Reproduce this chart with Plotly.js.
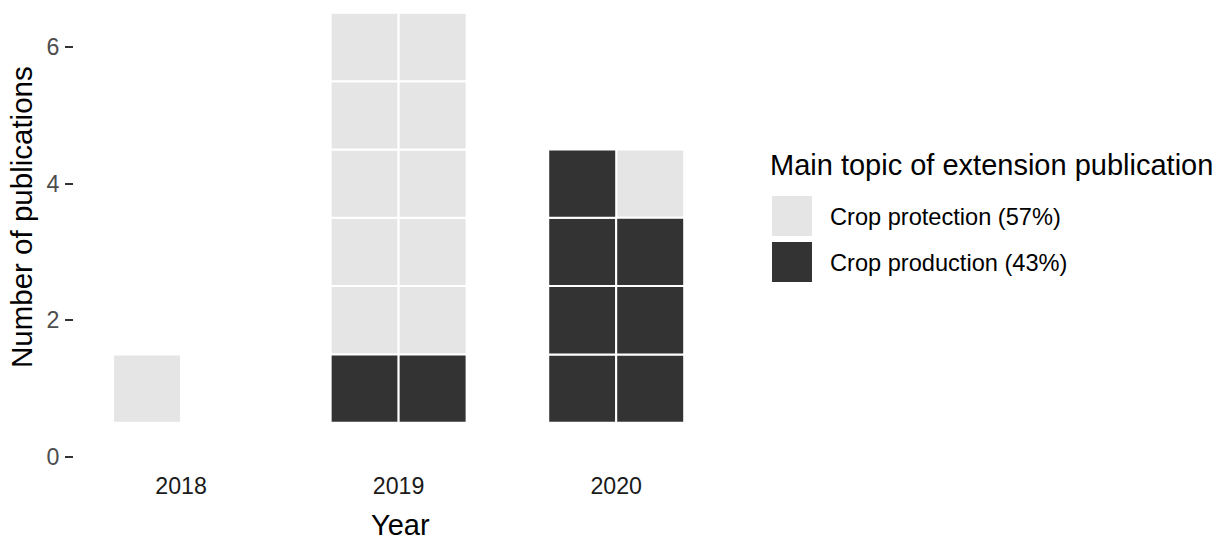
<!DOCTYPE html>
<html>
<head>
<meta charset="utf-8">
<script src="https://cdn.plot.ly/plotly-3.0.1.min.js"></script>
<style>
  html, body { margin: 0; padding: 0; background: #ffffff; }
  #chart { width: 1222px; height: 540px; }
</style>
</head>
<body>
<div id="chart"></div>
<script>
// ---- Data ----
const years = [2018, 2019, 2020];
const categories = ['Crop protection', 'Crop production'];
const protection = [1, 10, 1];   // tiles per year, Crop protection
const production = [0, 2, 7];    // tiles per year, Crop production
const yTicks = [0, 2, 4, 6];
const colors = { 'Crop protection': '#E5E5E5', 'Crop production': '#333333' };

// ---- Waffle layout (2 tiles per row, production filled first, then protection) ----
const perRow = 2;
const colWidth = 0.3125;   // in year units
const tiles = { 'Crop protection': { x: [], base: [], y: [] }, 'Crop production': { x: [], base: [], y: [] } };
years.forEach((yr, i) => {
  const seq = [];
  for (let k = 0; k < production[i]; k++) seq.push('Crop production');
  for (let k = 0; k < protection[i]; k++) seq.push('Crop protection');
  seq.forEach((cat, k) => {
    const col = k % perRow;
    const row = Math.floor(k / perRow) + 1;
    tiles[cat].x.push(yr + (col - (perRow - 1) / 2) * colWidth);
    tiles[cat].base.push(row - 0.5);
    tiles[cat].y.push(1);
  });
});

const totalProt = protection.reduce((a, b) => a + b, 0);
const totalProd = production.reduce((a, b) => a + b, 0);
const total = totalProt + totalProd;
const pct = {
  'Crop protection': Math.round(100 * totalProt / total),
  'Crop production': Math.round(100 * totalProd / total)
};

const traces = categories.map(cat => ({
  type: 'bar',
  name: cat + ' (' + pct[cat] + '%)',
  x: tiles[cat].x,
  y: tiles[cat].y,
  base: tiles[cat].base,
  width: colWidth,
  marker: { color: colors[cat], line: { color: '#ffffff', width: 2 } },
  showlegend: false,
  hoverinfo: 'skip'
}));

// ---- Geometry helpers (pixel -> paper) ----
const W = 1222, H = 540;
const M = { l: 74, r: W - 725, t: 6, b: H - 474 };
const PW = W - M.l - M.r, PH = H - M.t - M.b;
const px = v => (v - M.l) / PW;
const py = v => (H - M.b - v) / PH;

const FONT = '"Liberation Sans", Arial, Helvetica, sans-serif';

const shapes = [];
const annotations = [];

// Legend (manual, large keys)
annotations.push({
  xref: 'paper', yref: 'paper', x: px(768), y: py(165), xanchor: 'left', yanchor: 'middle',
  text: 'Main topic of extension publication', showarrow: false,
  font: { family: FONT, size: 29, color: '#000000' }
});
const keyTop = [196, 242];
categories.forEach((cat, i) => {
  shapes.push({
    type: 'rect', xref: 'paper', yref: 'paper',
    x0: px(772), x1: px(812), y0: py(keyTop[i]), y1: py(keyTop[i] + 40),
    fillcolor: colors[cat], line: { width: 0 }
  });
  annotations.push({
    xref: 'paper', yref: 'paper', x: px(828), y: py(keyTop[i] + 21), xanchor: 'left', yanchor: 'middle',
    text: cat + ' (' + pct[cat] + '%)', showarrow: false,
    font: { family: FONT, size: 23.6, color: '#000000' }
  });
});

// Axis titles
annotations.push({
  xref: 'paper', yref: 'paper', x: px(400), y: py(525), xanchor: 'center', yanchor: 'middle',
  text: 'Year', showarrow: false, font: { family: FONT, size: 29, color: '#000000' }
});
annotations.push({
  xref: 'paper', yref: 'paper', x: px(22), y: py(217), xanchor: 'center', yanchor: 'middle',
  text: 'Number of publications', textangle: -90, showarrow: false,
  font: { family: FONT, size: 29.5, color: '#000000' }
});

const layout = {
  width: W, height: H,
  margin: M,
  paper_bgcolor: '#ffffff', plot_bgcolor: '#ffffff',
  barmode: 'overlay',
  bargap: 0,
  showlegend: false,
  hovermode: false,
  font: { family: FONT },
  xaxis: {
    range: [2017.508, 2020.5],
    tickmode: 'array', tickvals: years, ticktext: years.map(String),
    showgrid: false, zeroline: false, showline: false,
    ticks: '', ticklabelstandoff: -4,
    tickfont: { family: FONT, size: 23.2, color: '#1A1A1A' },
    fixedrange: true
  },
  yaxis: {
    range: [-0.25, 6.6],
    tickmode: 'array', tickvals: yTicks, ticktext: yTicks.map(String),
    showgrid: false, zeroline: false, showline: false,
    ticks: 'outside', ticklen: 8, tickwidth: 2, tickcolor: '#333333',
    ticklabelstandoff: 1,
    tickfont: { family: FONT, size: 23.2, color: '#4D4D4D' },
    fixedrange: true
  },
  shapes: shapes,
  annotations: annotations
};

Plotly.newPlot('chart', traces, layout, { displayModeBar: false, staticPlot: true });
</script>
</body>
</html>
